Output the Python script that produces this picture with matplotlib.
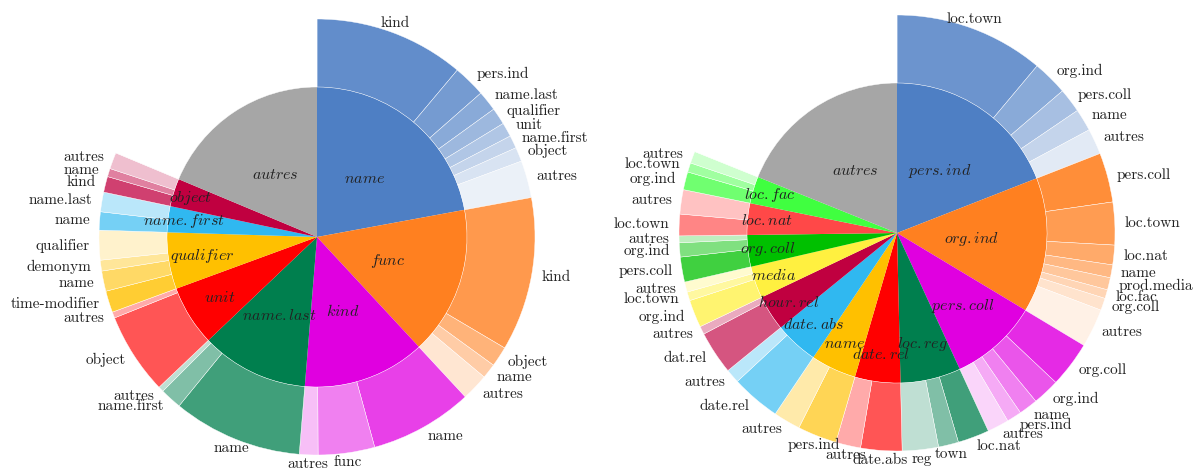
import numpy as np
import matplotlib
matplotlib.use('Agg')
import matplotlib.pyplot as plt
from matplotlib.colors import to_rgb

plt.rcParams['font.family'] = 'serif'
plt.rcParams['font.serif'] = ['cmr10']
plt.rcParams['mathtext.fontset'] = 'cm'
plt.rcParams['axes.formatter.use_mathtext'] = True

# --- left chart ---
left_labels = ['name', 'func', 'kind', 'name.last', 'unit', 'qualifier', 'name.first', 'object', 'autres']
left_values = [22.1, 16.0, 13.2, 11.6, 6.5, 6.1, 2.8, 3.0, 18.7]
left_colors = ['#4e7fc4', '#ff8020', '#e000e0', '#007f4e', '#ff0000', '#ffc000', '#30b8f0', '#c00040', '#a6a6a6']
left_sub_labels = [
    ['kind', 'pers.ind', 'name.last', 'qualifier', 'unit', 'name.first', 'object', 'autres'],
    ['kind', 'object', 'name', 'autres'],
    ['name', 'func', 'autres'],
    ['name', 'name.first', 'autres'],
    ['object', 'autres'],
    ['time-modifier', 'name', 'demonym', 'qualifier'],
    ['name', 'name.last'],
    ['kind', 'name', 'autres'],
    [],
]
left_sub_values = [
    [11.1, 2.4, 1.5, 1.25, 1.05, 0.95, 1.05, 2.75],
    [11.4, 1.5, 1.1, 2.0],
    [7.75, 4.25, 1.4],
    [9.6, 1.6, 0.4],
    [6.05, 0.45],
    [1.6, 1.5, 0.8, 2.2],
    [1.35, 1.45],
    [1.15, 0.6, 1.2],
    [],
]

# --- right chart ---
right_labels = ['pers.ind', 'org.ind', 'pers.coll', 'loc.reg', 'date.rel', 'name', 'date.abs',
                'hour.rel', 'media', 'org.coll', 'loc.nat', 'loc.fac', 'autres']
right_values = [19.05, 14.55, 9.5, 6.5, 4.9, 4.9, 4.7, 3.8, 3.45, 3.4, 3.4, 2.9, 18.9]
right_colors = ['#4e7fc4', '#ff8020', '#e000e0', '#007f4e', '#ff0000', '#ffc000', '#30b8f0',
                '#c00040', '#fff040', '#00c000', '#ff4848', '#40ff40', '#a6a6a6']
right_sub_labels = [
    ['loc.town', 'org.ind', 'pers.coll', 'name', 'autres'],
    ['pers.coll', 'loc.town', 'loc.nat', 'name', 'prod.media', 'loc.fac', 'org.coll', 'autres'],
    ['org.coll', 'org.ind', 'name', 'pers.ind', 'autres'],
    ['loc.nat', 'town', 'reg'],
    ['date.abs', 'autres'],
    ['pers.ind', 'autres'],
    ['date.rel', 'autres'],
    ['dat.rel', 'autres'],
    ['org.ind', 'loc.town', 'autres'],
    ['pers.coll', 'org.ind', 'autres'],
    ['loc.town', 'autres'],
    ['org.ind', 'loc.town', 'autres'],
    [],
]
right_sub_values = [
    [11.1, 2.6, 1.8, 1.65, 1.9],
    [3.65, 3.15, 1.45, 0.95, 0.9, 0.65, 0.9, 2.85],
    [3.4, 2.0, 1.4, 1.1, 1.6],
    [2.35, 1.5, 2.7],
    [3.05, 1.85],
    [2.9, 2.0],
    [3.65, 1.05],
    [3.2, 0.6],
    [2.05, 0.65, 0.75],
    [1.85, 1.05, 0.5],
    [1.6, 1.8],
    [1.35, 0.7, 0.9],
    [],
]

W, H = 1193, 472
R_OUT = 218.0
R_IN = 150.0 / R_OUT
HALF = 236


def shade(color, i, n):
    a = 1 - (i + 1) / (n + 1)
    c = np.array(to_rgb(color))
    return tuple(a * c + (1 - a))


def sunburst(ax, labels, values, colors, sub_labels, sub_values):
    outer_vals, outer_cols, outer_labs = [], [], []
    for v, col, sl, sv in zip(values, colors, sub_labels, sub_values):
        if sv:
            s = sum(sv)
            for i, (l, x) in enumerate(zip(sl, sv)):
                outer_vals.append(x * v / s)
                outer_cols.append(shade(col, i, len(sv)))
                outer_labs.append(l)
        else:
            outer_vals.append(v)
            outer_cols.append('none')
            outer_labs.append('')

    ax.pie(values, radius=R_IN, colors=colors, startangle=90, counterclock=False,
           wedgeprops=dict(linewidth=0))
    ax.pie(outer_vals, radius=1, colors=outer_cols, startangle=90, counterclock=False,
           wedgeprops=dict(width=1 - R_IN, edgecolor='white', linewidth=0.3))

    # inner labels
    vals = np.array(values, dtype=float)
    ends = np.cumsum(vals) / vals.sum() * 360
    starts = ends - vals / vals.sum() * 360
    for lab, st, en in zip(labels, starts, ends):
        span = en - st
        mid = np.deg2rad(90 - (st + en) / 2)
        rf = max(0.5, 0.99 - 0.0098 * span) * R_IN
        ax.text(rf * np.cos(mid), rf * np.sin(mid), f'${lab}$', ha='center', va='center',
                fontsize=11.5, color='#222222')

    # outer labels
    ov = np.array(outer_vals)
    ends = np.cumsum(ov) / ov.sum() * 360
    starts = ends - ov / ov.sum() * 360
    for lab, st, en in zip(outer_labs, starts, ends):
        if not lab:
            continue
        mid = np.deg2rad(90 - (st + en) / 2)
        c, s = np.cos(mid), np.sin(mid)
        ha = 'left' if c > 0.345 else ('right' if c < -0.45 else 'center')
        r = 1.044
        ax.text(r * c, r * s, lab, ha=ha, va='center', fontsize=11, color='#222222')

    lim = HALF / R_OUT
    ax.set_xlim(-lim, lim)
    ax.set_ylim(-lim, lim)
    ax.axis('off')


fig = plt.figure(figsize=(W / 100, H / 100), dpi=100)

ax1 = fig.add_axes([(317 - HALF) / W, (H - 237 - HALF) / H, 2 * HALF / W, 2 * HALF / H])
sunburst(ax1, left_labels, left_values, left_colors, left_sub_labels, left_sub_values)

ax2 = fig.add_axes([(897 - HALF) / W, (H - 233 - HALF) / H, 2 * HALF / W, 2 * HALF / H])
sunburst(ax2, right_labels, right_values, right_colors, right_sub_labels, right_sub_values)

fig.savefig('out.png', dpi=100)
